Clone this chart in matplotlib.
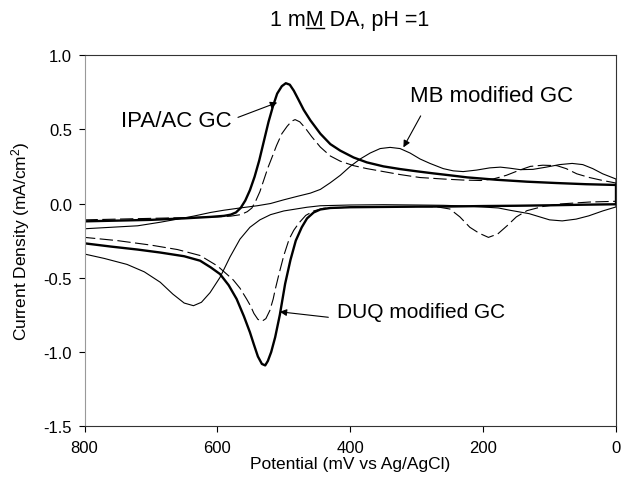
import numpy as np
import matplotlib
matplotlib.use("Agg")
from matplotlib import pyplot as plt
from matplotlib.lines import Line2D
from matplotlib.ticker import FormatStrFormatter

plt.rcParams["font.family"] = ["Liberation Sans", "DejaVu Sans"]
plt.rcParams["mathtext.fontset"] = "custom"
plt.rcParams["mathtext.rm"] = "Liberation Sans"
plt.rcParams["mathtext.default"] = "regular"
plt.rcParams["axes.unicode_minus"] = False

# IPA/AC GC (thick solid)
ipa_fwd_E = [800, 750, 700, 650, 610, 590, 580, 572, 565, 558, 551, 544, 537, 530, 523,
             516, 510, 503, 497, 491, 485, 478, 470, 460, 445, 430, 415, 395, 375, 350,
             325, 300, 275, 250, 224, 180, 134, 90, 45, 0]
ipa_fwd_I = [-0.12, -0.115, -0.11, -0.10, -0.09, -0.083, -0.075, -0.06, -0.03, 0.02, 0.09,
             0.18, 0.29, 0.42, 0.55, 0.66, 0.74, 0.79, 0.81, 0.80, 0.76, 0.70, 0.63, 0.56,
             0.47, 0.40, 0.356, 0.31, 0.277, 0.25, 0.232, 0.217, 0.203, 0.19, 0.176, 0.16,
             0.147, 0.138, 0.13, 0.125]
ipa_rev_E = [0, 50, 100, 150, 200, 250, 300, 350, 400, 430, 445, 455, 465, 473, 482, 490,
             498, 506, 513, 519, 524, 528, 533, 539, 545, 551, 560, 571, 583, 596, 610, 626,
             650, 686, 720, 760, 800]
ipa_rev_I = [-0.005, -0.008, -0.012, -0.015, -0.017, -0.02, -0.021, -0.023, -0.025, -0.03,
             -0.04, -0.06, -0.10, -0.16, -0.25, -0.38, -0.54, -0.75, -0.90, -1.0, -1.06,
             -1.09, -1.08, -1.03, -0.95, -0.867, -0.76, -0.643, -0.55, -0.475, -0.43, -0.385,
             -0.355, -0.33, -0.31, -0.29, -0.268]

# DUQ modified GC (dashed)
duq_fwd_E = [800, 700, 650, 600, 580, 565, 555, 548, 542, 536, 530, 524, 517, 511, 503, 495,
             488, 483, 476, 468, 458, 445, 430, 415, 395, 375, 350, 325, 295, 260, 230, 204,
             185, 165, 145, 129, 110, 89, 75, 59, 40, 20, 0]
duq_fwd_I = [-0.11, -0.10, -0.095, -0.09, -0.085, -0.075, -0.055, -0.03, 0.02, 0.08, 0.16,
             0.24, 0.32, 0.39, 0.47, 0.52, 0.555, 0.565, 0.55, 0.51, 0.45, 0.38, 0.32, 0.285,
             0.255, 0.235, 0.215, 0.195, 0.175, 0.165, 0.158, 0.155, 0.165, 0.19, 0.225, 0.25,
             0.258, 0.255, 0.235, 0.20, 0.175, 0.155, 0.138]
duq_rev_E = [0, 40, 84, 110, 134, 150, 164, 178, 192, 206, 220, 235, 250, 270, 295, 350, 400,
             440, 455, 467, 477, 485, 492, 500, 507, 513, 516, 521, 527, 533, 539, 545, 550,
             556, 566, 576, 586, 600, 626, 660, 700, 750, 800]
duq_rev_I = [0.015, 0.01, -0.003, -0.02, -0.048, -0.09, -0.15, -0.205, -0.228, -0.20, -0.16,
             -0.09, -0.037, -0.022, -0.02, -0.022, -0.025, -0.032, -0.05, -0.08, -0.13, -0.18,
             -0.24, -0.35, -0.47, -0.58, -0.643, -0.72, -0.775, -0.793, -0.78, -0.74, -0.69,
             -0.643, -0.57, -0.515, -0.475, -0.42, -0.35, -0.31, -0.28, -0.25, -0.228]

# MB modified GC (thin solid)
mb_fwd_E = [800, 760, 720, 686, 660, 636, 610, 590, 566, 540, 520, 500, 480, 460, 445, 430,
            415, 400, 385, 370, 355, 340, 325, 310, 295, 280, 260, 245, 230, 210, 190, 174,
            160, 144, 125, 105, 85, 66, 50, 35, 20, 0]
mb_fwd_I = [-0.17, -0.16, -0.15, -0.126, -0.105, -0.085, -0.06, -0.045, -0.03, -0.015, 0.0,
            0.025, 0.048, 0.07, 0.095, 0.14, 0.19, 0.25, 0.30, 0.34, 0.37, 0.378, 0.37, 0.34,
            0.30, 0.27, 0.235, 0.22, 0.215, 0.225, 0.24, 0.245, 0.238, 0.228, 0.23, 0.245,
            0.262, 0.27, 0.262, 0.235, 0.20, 0.165]
mb_rev_E = [0, 20, 41, 60, 81, 100, 131, 160, 177, 220, 260, 300, 350, 400, 445, 465, 486,
            500, 520, 536, 551, 566, 581, 596, 611, 624, 636, 650, 667, 686, 710, 736, 770, 800]
mb_rev_I = [-0.023, -0.05, -0.083, -0.105, -0.117, -0.11, -0.068, -0.045, -0.03, -0.018,
            -0.012, -0.01, -0.008, -0.01, -0.015, -0.025, -0.04, -0.05, -0.075, -0.11, -0.16,
            -0.24, -0.36, -0.497, -0.60, -0.665, -0.688, -0.67, -0.61, -0.53, -0.46, -0.41,
            -0.37, -0.34]

x_ticks = [800, 600, 400, 200, 0]
y_ticks = [-1.5, -1.0, -0.5, 0.0, 0.5, 1.0]

fig = plt.figure(figsize=(6.23, 4.81), dpi=100)
ax = fig.add_axes([84.5 / 623, 1 - 427.3 / 481, 531.5 / 623, 371.3 / 481])

ax.plot(mb_fwd_E + mb_rev_E, mb_fwd_I + mb_rev_I, color="black", lw=0.8)
ax.plot(duq_fwd_E + duq_rev_E, duq_fwd_I + duq_rev_I, color="black", lw=0.8,
        dashes=(12, 4))
ax.plot(ipa_fwd_E + ipa_rev_E, ipa_fwd_I + ipa_rev_I, color="black", lw=1.7)

ax.set_xlim(800, 0)
ax.set_ylim(-1.5, 1.0)
ax.set_xticks(x_ticks)
ax.set_yticks(y_ticks)
ax.yaxis.set_major_formatter(FormatStrFormatter("%.1f"))
ax.tick_params(direction="out", length=4, width=0.8, labelsize=12, colors="black")
ax.tick_params(axis="x", pad=6)
ax.tick_params(axis="y", pad=5)
for side in ["top", "right", "bottom"]:
    ax.spines[side].set_color("#333333")
    ax.spines[side].set_linewidth(0.8)
ax.spines["left"].set_color("#999999")
ax.spines["left"].set_linewidth(0.8)

ax.set_xlabel("Potential (mV vs Ag/AgCl)", fontsize=12.5)
ax.set_ylabel("Current Density (mA/cm$^2$)", fontsize=12.5)
ax.xaxis.set_label_coords(0.5, -0.08)
ax.yaxis.set_label_coords(-0.098, 0.5)

arrow = dict(arrowstyle="-|>", lw=0.8, color="black", mutation_scale=10,
             shrinkA=0, shrinkB=0)
ax.annotate("", xy=(510, 0.68), xytext=(569, 0.58), arrowprops=arrow)
ax.text(578, 0.56, "IPA/AC GC", fontsize=16, ha="right", va="center")
ax.annotate("", xy=(320, 0.378), xytext=(294, 0.59), arrowprops=arrow)
ax.text(310, 0.725, "MB modified GC", fontsize=16, ha="left", va="center")
ax.annotate("", xy=(506, -0.729), xytext=(433, -0.766), arrowprops=arrow)
ax.text(420, -0.729, "DUQ modified GC", fontsize=15, ha="left", va="center")

# title with underlined M
title_str = "1 mM DA, pH =1"
t = fig.text(350 / 623, 1 - 26 / 481, title_str, fontsize=15.5, ha="center",
             va="baseline")
fig.canvas.draw()
renderer = fig.canvas.get_renderer()
fp = t.get_fontproperties()
w_pre = renderer.get_text_width_height_descent("1 m", fp, ismath=False)[0]
w_m = renderer.get_text_width_height_descent("1 mM", fp, ismath=False)[0]
bb = t.get_window_extent(renderer)
_, _, d = renderer.get_text_width_height_descent(title_str, fp, ismath=False)
base = bb.y0 + d - 2.5
x0, x1 = bb.x0 + w_pre, bb.x0 + w_m
inv = fig.transFigure.inverted()
(fx0, fy), (fx1, _) = inv.transform([(x0, base), (x1, base)])
fig.add_artist(Line2D([fx0, fx1], [fy, fy], color="black", lw=1.0,
                      transform=fig.transFigure))

fig.savefig("out.png", dpi=100)
plt.close(fig)
